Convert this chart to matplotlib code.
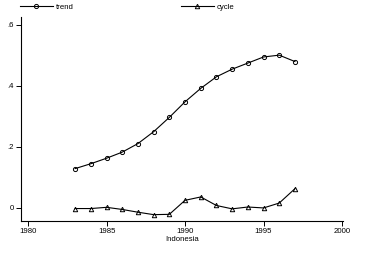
import numpy as np
import matplotlib.pyplot as plt
from matplotlib.lines import Line2D

years = np.arange(1983, 1998)
trend = [0.129, 0.145, 0.163, 0.183, 0.211, 0.250, 0.297, 0.348, 0.392,
         0.430, 0.455, 0.475, 0.495, 0.501, 0.480]
cycle = [-0.002, -0.002, 0.002, -0.005, -0.014, -0.022, -0.021, 0.025, 0.036,
         0.008, -0.003, 0.003, 0.000, 0.016, 0.063]
yticks = [0, 0.2, 0.4, 0.6]
ytick_labels = ['0', '.2', '.4', '.6']
xticks = [1980, 1985, 1990, 1995, 2000]

plt.rcParams['font.family'] = ['Liberation Sans', 'DejaVu Sans']
fs = 5.6

fig = plt.figure(figsize=(3.77, 2.66), dpi=100)
ax = fig.add_axes([0.0557, 0.169, 0.854, 0.767])

ax.plot(years, trend, color='black', lw=0.8, marker='o', ms=3.0,
        mfc='none', mec='black', mew=0.7)
ax.plot(years, cycle, color='black', lw=0.8, marker='^', ms=3.2,
        mfc='none', mec='black', mew=0.7)

ax.set_xlim(1979.55, 2000.06)
ax.set_ylim(-0.043, 0.626)
ax.set_xticks(xticks)
ax.set_yticks(yticks)
ax.set_yticklabels(ytick_labels)
ax.tick_params(labelsize=fs, length=3.5, width=0.7, pad=1.5, colors='black')
for side in ['top', 'right']:
    ax.spines[side].set_visible(False)
for side in ['left', 'bottom']:
    ax.spines[side].set_linewidth(0.8)
ax.set_xlabel('Indonesia', fontsize=fs, labelpad=1)

# legend across the top, two entries spaced apart
h1 = Line2D([], [], color='black', lw=0.8, marker='o', ms=3.0,
            mfc='none', mec='black', mew=0.7)
h2 = Line2D([], [], color='black', lw=0.8, marker='^', ms=3.2,
            mfc='none', mec='black', mew=0.7)
kw = dict(loc='center left', frameon=False, fontsize=fs, handlelength=4.2,
          handletextpad=0.4, borderpad=0, borderaxespad=0)
fig.legend([h1], ['trend'], bbox_to_anchor=(20 / 377, 1 - 7 / 266), **kw)
fig.legend([h2], ['cycle'], bbox_to_anchor=(181 / 377, 1 - 7 / 266), **kw)

fig.savefig('out.png', dpi=100)
